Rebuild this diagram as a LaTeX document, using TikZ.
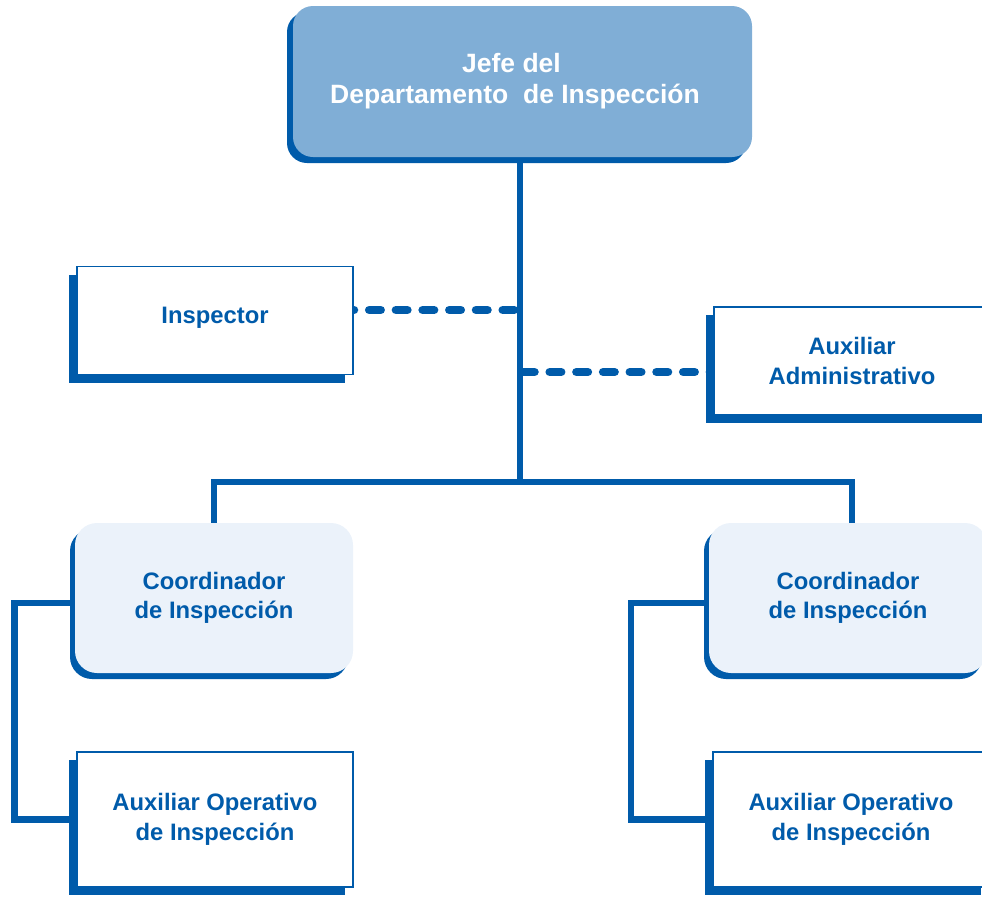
\documentclass[tikz,border=0pt]{standalone}
\usepackage{fontspec}
\setmainfont{Liberation Sans}
\usetikzlibrary{shadows,backgrounds,calc}
\definecolor{orgblue}{HTML}{005BAA}
\definecolor{headfill}{HTML}{80AED6}
\definecolor{coordfill}{HTML}{EBF2FA}
\begin{document}
\begin{tikzpicture}[x=1pt,y=-1pt,
  lbl/.style={font=\bfseries\fontsize{23.8}{29.5}\selectfont, text=orgblue, align=center},
  headbox/.style={fill=headfill, rounded corners=20pt, inner sep=0pt,
    minimum width=459pt, minimum height=151pt,
    general shadow={fill=orgblue, shadow xshift=-6pt, shadow yshift=-6pt},
    font=\bfseries\fontsize{26.5}{31}\selectfont, text=white, align=center},
  coordbox/.style={lbl, fill=coordfill, rounded corners=22pt, inner sep=0pt,
    minimum width=278pt, minimum height=150pt,
    general shadow={fill=orgblue, shadow xshift=-5pt, shadow yshift=-6pt}},
  staffbox/.style={lbl, draw=orgblue, line width=1.8pt, fill=white, inner sep=0pt,
    minimum width=276pt, minimum height=108pt,
    general shadow={fill=orgblue, shadow xshift=-8pt, shadow yshift=-8pt}},
  opbox/.style={staffbox, minimum height=135pt},
  conn/.style={draw=orgblue, line width=6.5pt},
  dashconn/.style={draw=orgblue, line width=8.5pt, line cap=round,
    dash pattern=on 11.5pt off 15.2pt},
]
\useasboundingbox (0,0) rectangle (982,897);
\clip (0,0) rectangle (982,897);

% boxes
\node[headbox] (jefe) at (522.5,81.5)
  {Jefe del\hspace*{22pt}\\Departamento\ \ de Inspección\hspace*{15pt}};
\node[staffbox, text depth=11pt] (insp) at (215,320.5) {Inspector};
\node[staffbox] (aux) at (852,361) {Auxiliar\\Administrativo};
\node[coordbox] (c1) at (214,598) {Coordinador\\de Inspección};
\node[coordbox] (c2) at (848,598) {Coordinador\\de Inspección};
\node[opbox] (a1) at (215,819.5) {Auxiliar Operativo\\de Inspección};
\node[opbox] (a2) at (851,819.5) {Auxiliar Operativo\\de Inspección};

\coordinate (hub) at (520,482);
\coordinate (d1) at (520,310);
\coordinate (d2) at (520,372);

% connectors
\begin{scope}[on background layer]
  \draw[conn] (jefe.south -| hub) -- (hub);
  \draw[conn] (c1.north) |- (hub) -| ([xshift=4pt]c2.north);
  \draw[dashconn, dash phase=20.9pt] (d1) -- ([yshift=10.5pt]insp.east);
  \draw[dashconn, dash phase=23.7pt] (d2) -- ([yshift=-11pt]aux.west);
  \draw[conn] ([yshift=-5pt]c1.west) -| ([xshift=-61.5pt]a1.west) -- (a1.west);
  \draw[conn] ([yshift=-5pt]c2.west) -| ([xshift=-81pt]a2.west) -- (a2.west);
\end{scope}
\end{tikzpicture}
\end{document}
